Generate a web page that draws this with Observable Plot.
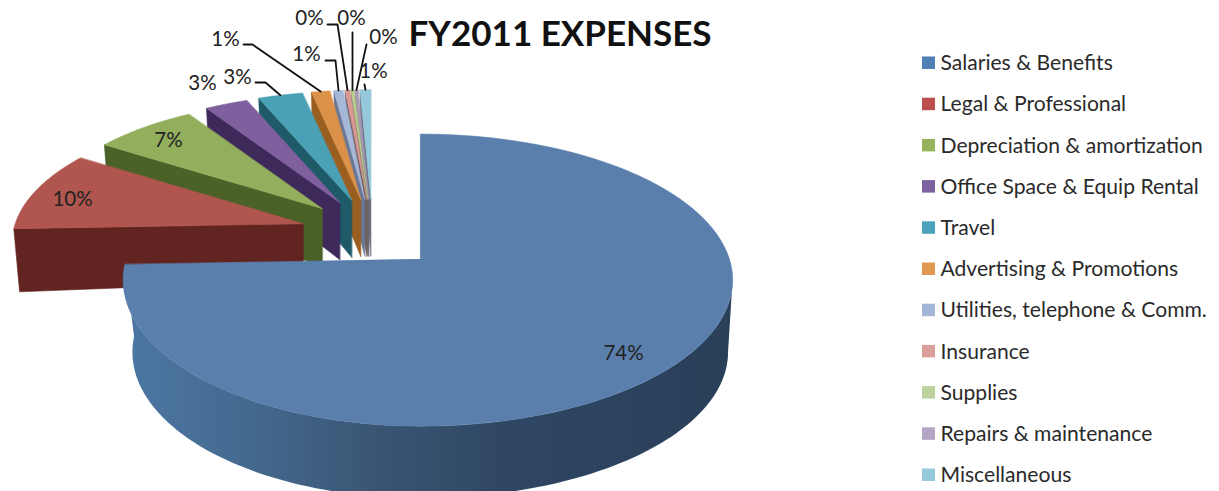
<!DOCTYPE html>
<html>
<head>
<meta charset="utf-8">
<style>html,body{margin:0;padding:0;background:#fff;overflow:hidden}svg{display:block}</style>
<script src="https://cdn.jsdelivr.net/npm/d3@7"></script>
<script src="https://cdn.jsdelivr.net/npm/@observablehq/plot@0.6"></script>
</head>
<body>
<script>
const chartTitle = "FY2011 EXPENSES";
const categories = ["Salaries & Benefits","Legal & Professional","Depreciation & amortization","Office Space & Equip Rental","Travel","Advertising & Promotions","Utilities, telephone & Comm.","Insurance","Supplies","Repairs & maintenance","Miscellaneous"];
const shares = [74.4,9.9,6.8,2.8,2.9,1.2,0.6,0.3,0.2,0.2,0.7];
const labels = ["74%","10%","7%","3%","3%","1%","1%","0%","0%","0%","1%"];
const legendColors = ["#4f7fb4","#bb4f4b","#97b25c","#7d62a0","#4ba3bb","#e0974f","#a4b6d8","#dca09c","#bdd29c","#b3a5c4","#96c9dc"];
const topColors = ["#5a7fad","#b0564f","#93ae5c","#7f5f9d","#4aa0b5","#db9248","#a6b8d8","#d89a95","#b8cc90","#a898b8","#96c8dc"];
const sideColors = ["#2a3f58","#622420","#4a6128","#3e2a5a","#1f5a68","#9a5e20","#6a7896","#6f5a60","#6a7058","#665a72","#6a7080"];

// layout of the 3-D pie (projection of a tilted disc)
const W = 1219, H = 491;
const TAU = Math.PI * 2;
const center = {x: 372, y: 232.5}, explode = {x: 72, y: 34};
const persp = 0.144, baseDepth = 57;
const bigLens = {left: 294, right: 309, back: 143, nudge: {x: -4, y: 2.5}};
const legalLens = {left: 288, right: 288, back: 129, nudge: {x: 0, y: 0}};
const smallLens = {left: 282, right: 282, back: 125, nudge: {x: 0, y: 0}};

const total = d3.sum(shares);
const slices = [];
shares.reduce((acc, v, i) => {
  const a0 = acc / total * TAU, a1 = (acc + v) / total * TAU, mid = (a0 + a1) / 2;
  const lens = i === 0 ? bigLens : i === 1 ? legalLens : smallLens;
  slices.push({i, a0, a1, mid, lens,
    apex: {x: center.x + explode.x * Math.sin(mid) + lens.nudge.x, y: center.y - explode.y * Math.cos(mid) + lens.nudge.y}});
  return acc + v;
}, 0);

function rim(s, a) {
  const u = Math.sin(a), v = -Math.cos(a), k = 1 / (1 - persp * v);
  return {x: s.apex.x + k * (u < 0 ? s.lens.left : s.lens.right) * u, y: s.apex.y + k * s.lens.back * v, k};
}
const arc = (s, a0, a1, n = 40) => d3.range(n + 1).map(j => rim(s, a0 + (a1 - a0) * j / n));
const poly = (pts, color) => Plot.line(pts, {x: "x", y: "y", fill: color, stroke: color, strokeWidth: 0.6, curve: "linear-closed"});

const marks = [];

// shading of the main slice's wall
const wallStops = [[124, "#4c77a4"], [250, "#44698f"], [370, "#3a5674"], [500, "#2f4765"], [733, "#2a3f58"]];
marks.push(() => {
  const defs = d3.create("svg:defs");
  const g = defs.append("linearGradient").attr("id", "wallShade").attr("gradientUnits", "userSpaceOnUse")
    .attr("x1", wallStops[0][0]).attr("x2", wallStops[wallStops.length - 1][0]).attr("y1", 0).attr("y2", 0);
  wallStops.forEach(([x, c]) => g.append("stop").attr("offset", (x - 124) / (733 - 124)).attr("stop-color", c));
  return defs.node();
});

// exploded slices, back to front
for (const s of slices.slice(1).reverse()) {
  const q = rim(s, s.a0);
  const depth = baseDepth + (q.k - 0.95) * 110;
  marks.push(poly([s.apex, q, {x: q.x + (s.apex.x - q.x) * 0.02, y: q.y + depth}, {x: s.apex.x, y: s.apex.y + baseDepth}], sideColors[s.i]));
  marks.push(poly([s.apex, ...arc(s, s.a0, s.a1)], topColors[s.i]));
}

// main slice: wall, then top
const big = slices[0];
const lower = p => ({x: 428 + (p.x - 428) * (p.x < 428 ? 0.97 : 0.985), y: p.y + 72});
const wall = arc(big, 98 * Math.PI / 180, big.a1, 120);
marks.push(Plot.line([...wall, ...wall.map(lower).reverse()], {x: "x", y: "y", fill: "url(#wallShade)", stroke: "none", curve: "linear-closed"}));
marks.push(poly([big.apex, ...arc(big, big.a0, big.a1, 160)], topColors[0]));

// leader lines
const ink = "#111";
const rimMid = i => rim(slices[i], slices[i].mid);
const leaders = [
  [4, [{x: 255, y: 82}, {x: 265, y: 82}]],
  [5, [{x: 243, y: 44}, {x: 252, y: 44}]],
  [6, [{x: 325, y: 60}, {x: 335, y: 60}]],
  [7, [{x: 327, y: 24}, {x: 337, y: 24}]],
  [8, [{x: 352, y: 32}]],
  [9, [{x: 366, y: 44}]],
  [10, [{x: 364, y: 84}]]
];
leaders.forEach(([i, pts]) => marks.push(Plot.line([...pts, rimMid(i)], {x: "x", y: "y", stroke: ink, strokeWidth: 1.8})));

// percentage labels
const labelSpots = [[623,353],[72,199],[168,140],[202,83],[237,77],[225,39],[306,54],[309,18],[351,18],[383,37],[373,71]];
marks.push(Plot.text(labels.map((t, i) => ({t, x: labelSpots[i][0], y: labelSpots[i][1]})), {
  x: "x", y: "y", text: "t", fontSize: 20.5, fill: "#222", fontFamily: "Lato", textAnchor: "middle", lineAnchor: "middle"
}));

// title
marks.push(Plot.text([chartTitle], {x: () => 408, y: () => 34, text: d => d, fontSize: 35, fontWeight: 700, fill: "#111", fontFamily: "Lato", textAnchor: "start", lineAnchor: "middle"}));

// legend
const rowY = i => 63 + i * 41.2;
const legend = categories.map((name, i) => ({name, i, color: legendColors[i]}));
marks.push(Plot.rect(legend, {x1: () => 922, x2: () => 935, y1: d => rowY(d.i) - 6.5, y2: d => rowY(d.i) + 6, fill: "color"}));
marks.push(Plot.text(legend, {x: () => 940, y: d => rowY(d.i), text: "name", fontSize: 21.1, fill: "#2a2a2a", fontFamily: "Lato", textAnchor: "start", lineAnchor: "middle"}));

const chart = Plot.plot({
  width: W, height: H, margin: 0,
  x: {domain: [0, W], range: [0, W], axis: null},
  y: {domain: [0, H], range: [0, H], axis: null},
  style: {background: "#fff"},
  marks
});
document.body.appendChild(chart);
</script>
</body>
</html>
